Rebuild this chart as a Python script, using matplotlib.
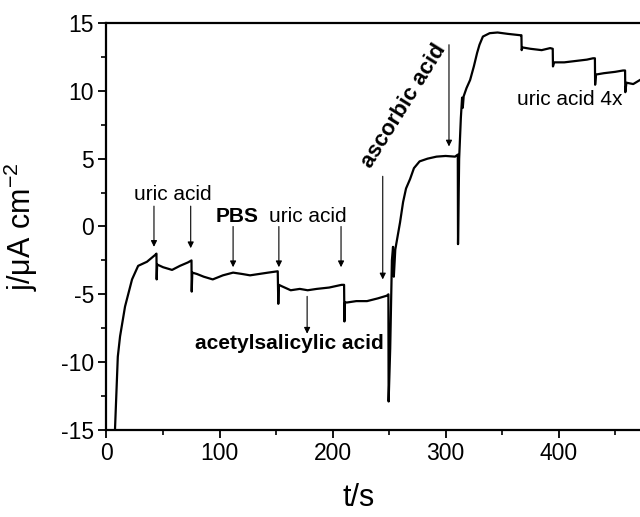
import matplotlib
matplotlib.use('Agg')
import matplotlib.pyplot as plt
from matplotlib.ticker import MultipleLocator

plt.rcParams['font.family'] = ['Liberation Sans', 'DejaVu Sans']
plt.rcParams['mathtext.fontset'] = 'custom'
plt.rcParams['mathtext.rm'] = 'Liberation Sans'
plt.rcParams['mathtext.it'] = 'Liberation Sans:italic'
plt.rcParams['axes.unicode_minus'] = False

# time (s) and current density (uA cm^-2)
t_data = [7.5, 10, 12, 16.4, 22.6, 28, 35.8, 43, 44.2,
          44.4, 44.8, 50, 58, 65, 72, 75.2,
          75.4, 75.9, 80, 86, 94, 103, 112, 120, 127, 135, 143, 151.5,
          152, 152.5, 155, 163, 171, 178, 186, 197, 208, 210.2,
          210.5, 211, 213, 221, 230.5, 240, 248, 249.4,
          249.6, 251, 252.5, 253.5, 254.2, 255.5, 259.7, 262.4, 265, 268.6,
          272, 277, 284, 292, 300, 308.4, 310.8,
          311, 312, 313.5, 314.6, 315.2, 316, 318.5, 321.7, 325, 327.9, 330,
          333, 339, 346, 355, 366, 367.1,
          367.3, 368, 375, 385, 392.5, 394.8,
          395, 396, 405, 415, 425, 430.5, 432.1,
          432.3, 433, 440, 450, 457, 458.8,
          459, 460, 466, 472]
j_data = [-15, -9.6, -8.1, -5.9, -3.9, -2.9, -2.6, -2.1, -2.0,
          -3.9, -2.8, -3.0, -3.2, -2.9, -2.65, -2.5,
          -4.8, -3.4, -3.5, -3.7, -3.9, -3.6, -3.4, -3.5, -3.6, -3.5, -3.4, -3.3,
          -5.7, -4.3, -4.4, -4.7, -4.6, -4.7, -4.6, -4.5, -4.3, -4.3,
          -7.0, -5.6, -5.6, -5.5, -5.5, -5.3, -5.1, -5.0,
          -12.9, -9.0, -2.5, -1.5, -3.7, -1.7, 0.3, 1.8, 2.8, 3.5,
          4.3, 4.8, 5.0, 5.15, 5.2, 5.15, 5.3,
          -1.3, 5.0, 8.0, 9.5, 8.75, 9.6, 10.2, 10.8, 11.8, 12.8, 13.4,
          14.0, 14.25, 14.3, 14.2, 14.1, 14.1,
          13.0, 13.2, 13.1, 13.0, 13.15, 13.1,
          11.8, 12.1, 12.1, 12.2, 12.3, 12.4, 12.4,
          10.45, 11.2, 11.3, 11.4, 11.5, 11.5,
          9.9, 10.6, 10.5, 10.8]

fig = plt.figure(figsize=(6.4, 5.17), dpi=100)
ax = fig.add_axes([0.1664, 0.1683, 0.8336, 0.7872])

ax.plot(t_data, j_data, color='black', lw=1.6)

ax.set_xlim(0, 472)
ax.set_ylim(-15, 15)
ax.xaxis.set_major_locator(MultipleLocator(100))
ax.xaxis.set_minor_locator(MultipleLocator(50))
ax.yaxis.set_major_locator(MultipleLocator(5))
ax.yaxis.set_minor_locator(MultipleLocator(2.5))
ax.tick_params(which='major', direction='out', length=6, width=1.3, labelsize=16.5, pad=3)
ax.tick_params(which='minor', direction='out', length=3.5, width=1.2)
ax.tick_params(top=False, right=False)
for side in ['left', 'bottom', 'top']:
    ax.spines[side].set_linewidth(1.6)
ax.spines['right'].set_visible(False)

ax.set_xlabel('t/s', fontsize=22)
ax.xaxis.set_label_coords(0.473, -0.13)
ax.set_ylabel('j/μA cm$^{-2}$', fontsize=22)
ax.yaxis.set_label_coords(-0.125, 0.5)

arrow = dict(arrowstyle='-|>', color='black', lw=0.8, mutation_scale=9, shrinkA=0, shrinkB=0)
fs = 15

# uric acid (first two additions)
ax.text(59, 2.35, 'uric acid', fontsize=fs, ha='center', va='center')
ax.annotate('', xy=(42, -1.5), xytext=(42, 1.5), arrowprops=arrow)
ax.annotate('', xy=(74.5, -1.6), xytext=(74.5, 1.5), arrowprops=arrow)

# PBS
ax.text(115.5, 0.75, 'PBS', fontsize=fs, fontweight='bold', ha='center', va='center')
ax.annotate('', xy=(112, -3.0), xytext=(112, 0), arrowprops=arrow)

# uric acid (second pair)
ax.text(178, 0.75, 'uric acid', fontsize=fs, ha='center', va='center')
ax.annotate('', xy=(152.5, -3.0), xytext=(152.5, 0), arrowprops=arrow)
ax.annotate('', xy=(207.5, -3.0), xytext=(207.5, 0), arrowprops=arrow)

# acetylsalicylic acid
ax.text(161.5, -8.6, 'acetylsalicylic acid', fontsize=fs, fontweight='bold',
        ha='center', va='center')
ax.annotate('', xy=(177.5, -7.9), xytext=(177.5, -5.15), arrowprops=arrow)

# ascorbic acid
ax.annotate('', xy=(244.4, -3.9), xytext=(244.4, 3.7), arrowprops=arrow)
ax.text(263.5, 8.9, 'ascorbic acid', fontsize=16, fontweight='bold',
        ha='center', va='center', rotation=58, rotation_mode='anchor')
ax.annotate('', xy=(303, 5.9), xytext=(303, 13.4), arrowprops=arrow)

# uric acid 4x
ax.text(410, 9.35, 'uric acid 4x', fontsize=fs, ha='center', va='center')

fig.savefig('out.png', dpi=100)
